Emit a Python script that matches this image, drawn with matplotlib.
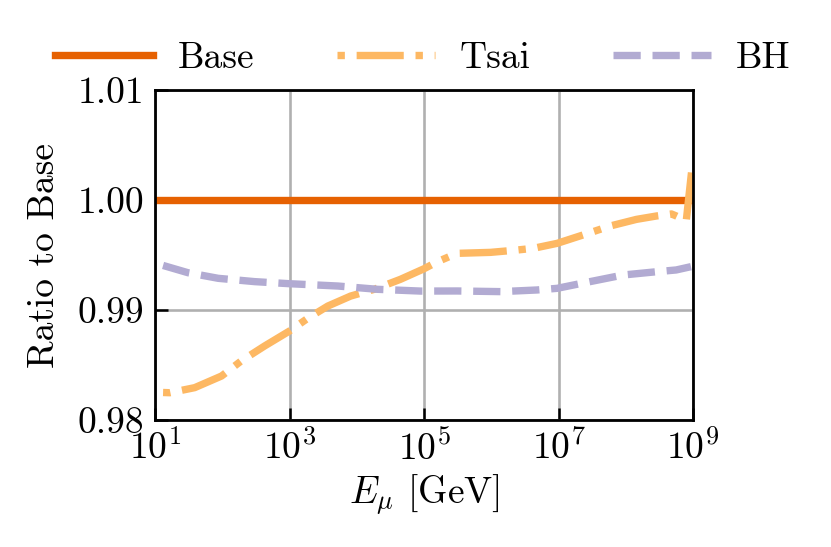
import numpy as np
import matplotlib
matplotlib.use("Agg")
import matplotlib.pyplot as plt

plt.rcParams.update({
    "font.family": "serif",
    "font.serif": ["cmr10"],
    "mathtext.fontset": "cm",
    "axes.formatter.use_mathtext": True,
    "axes.unicode_minus": False,
})

# Data (log10 of muon energy in GeV, ratio to Base)
base_logE = [1.0, 9.0]
base_val = [1.0, 1.0]

tsai_logE = [1.12, 1.22, 1.59, 1.99, 2.28, 2.63, 3.00, 3.27, 3.57, 3.91, 4.26,
             4.65, 5.00, 5.20, 5.49, 5.99, 6.38, 6.63, 6.98, 7.47, 7.77, 8.16,
             8.46, 8.68, 8.75, 8.90, 8.99]
tsai_val = [0.98250, 0.98248, 0.98294, 0.98400, 0.98536, 0.98673, 0.98809,
            0.98924, 0.99036, 0.99127, 0.99188, 0.99279, 0.99375, 0.99439,
            0.99515, 0.99524, 0.99545, 0.99561, 0.99606, 0.99703, 0.99764,
            0.99824, 0.99855, 0.99873, 0.99855, 0.99812, 1.00320]

bh_logE = [1.12, 1.49, 1.94, 2.48, 3.00, 3.72, 4.31, 4.95, 5.49, 6.14, 6.68,
           6.98, 7.47, 7.96, 8.46, 8.75, 8.97]
bh_val = [0.99405, 0.99339, 0.99288, 0.99258, 0.99239, 0.99218, 0.99188,
          0.99172, 0.99173, 0.99167, 0.99182, 0.99197, 0.99258, 0.99318,
          0.99348, 0.99364, 0.99394]

x_ticks = [1e1, 1e3, 1e5, 1e7, 1e9]
x_ticklabels = [r"$10^{1}$", r"$10^{3}$", r"$10^{5}$", r"$10^{7}$", r"$10^{9}$"]
y_ticks = [0.98, 0.99, 1.00, 1.01]
y_ticklabels = ["0.98", "0.99", "1.00", "1.01"]

c_base = "#e66101"
c_tsai = "#fdb863"
c_bh = "#b2abd2"

fig = plt.figure(figsize=(8.31, 5.47), dpi=100)
ax = fig.add_axes([155 / 831, 1 - 420 / 547, (693 - 155) / 831, (420 - 90) / 547])

lw = 5.3
ax.plot(10 ** np.array(base_logE), base_val, color=c_base, lw=lw, ls="-", label="Base")
ax.plot(10 ** np.array(tsai_logE), tsai_val, color=c_tsai, lw=lw,
        ls=(8.0, (6.4, 1.6, 1.0, 1.6)), label="Tsai")
ax.plot(10 ** np.array(bh_logE), bh_val, color=c_bh, lw=lw, ls="--", label="BH")

ax.set_xscale("log")
ax.set_xlim(1e1, 1e9)
ax.set_ylim(0.98, 1.01)
ax.set_xticks(x_ticks)
ax.set_xticklabels(x_ticklabels)
ax.set_yticks(y_ticks)
ax.set_yticklabels(y_ticklabels)
ax.minorticks_off()
ax.grid(True, color="#b0b0b0", lw=1.9)
ax.set_axisbelow(True)

ax.tick_params(axis="y", direction="in", length=9, width=1.8, labelsize=27, pad=8)
ax.tick_params(axis="x", direction="in", length=9, width=1.8, labelsize=27, pad=7)
for s in ax.spines.values():
    s.set_linewidth(2.0)

ax.set_xlabel(r"$E_\mu$ [GeV]", fontsize=27, labelpad=4)
ax.set_ylabel("Ratio to Base", fontsize=27, labelpad=12)

fig.legend(loc="center", bbox_to_anchor=(0.509, 0.893), ncol=3, frameon=False,
           fontsize=27, handlelength=2.6, handletextpad=0.67, columnspacing=2.2)

fig.savefig("out.png", dpi=100)
